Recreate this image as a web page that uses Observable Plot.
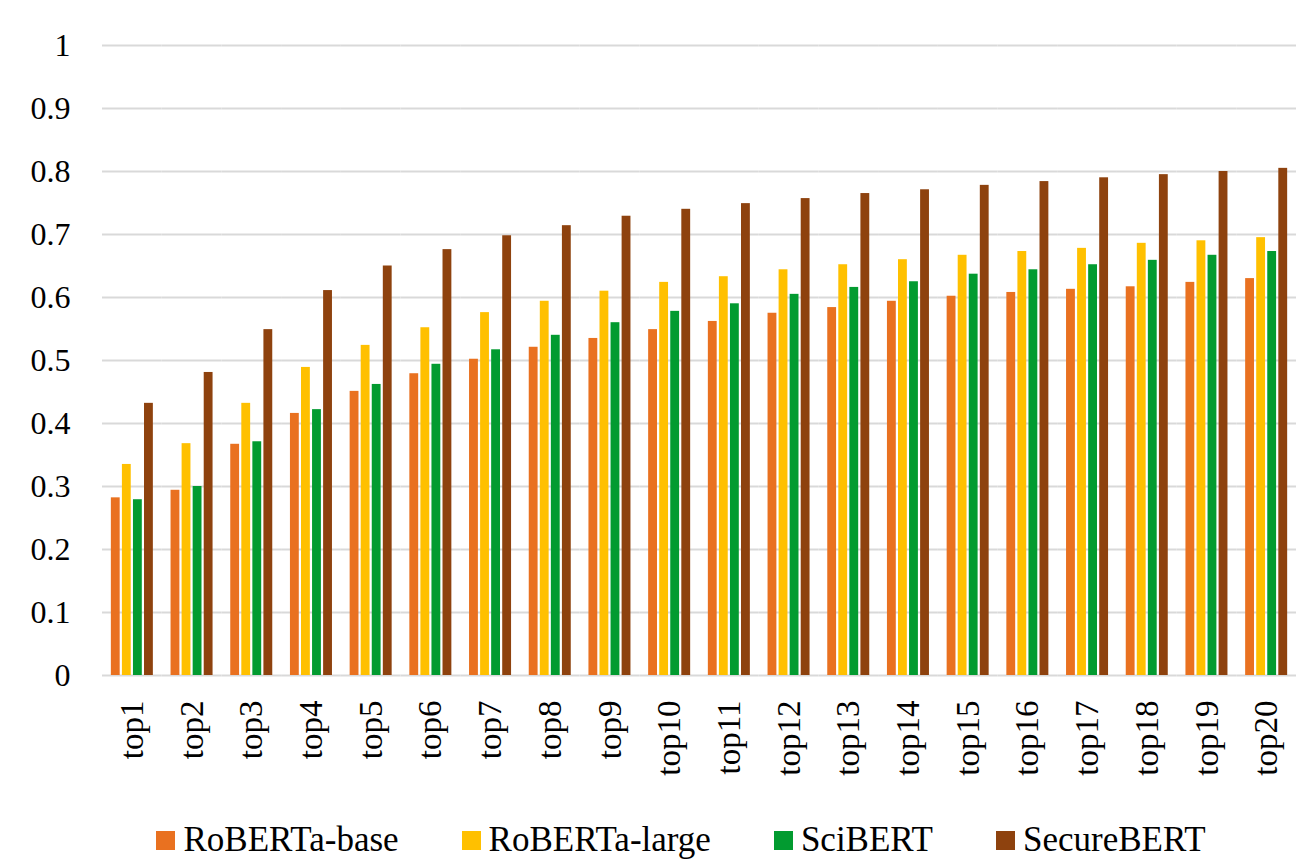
<!DOCTYPE html>
<html>
<head>
<meta charset="utf-8">
<script src="https://cdn.jsdelivr.net/npm/d3@7"></script>
<script src="https://cdn.jsdelivr.net/npm/@observablehq/plot@0.6"></script>
<style>
  html, body { margin: 0; padding: 0; background: #fff; }
  #chart { width: 1316px; }
  #chart svg text { font-family: "Liberation Serif", serif; }
  .legend { display: flex; justify-content: center; align-items: center; gap: 63px;
    font-family: "Liberation Serif", serif; font-size: 35px; color: #000; margin-top: 20px; padding-left: 46px; }
  .legend .item { display: flex; align-items: center; gap: 8px; }
  .legend .sw { width: 19px; height: 19px; display: inline-block; }
</style>
</head>
<body>
<div id="chart"></div>
<script>
const categories = ["top1","top2","top3","top4","top5","top6","top7","top8","top9","top10",
  "top11","top12","top13","top14","top15","top16","top17","top18","top19","top20"];
const seriesNames = ["RoBERTa-base", "RoBERTa-large", "SciBERT", "SecureBERT"];
const seriesColors = ["#E97120", "#FFC000", "#029B30", "#8E420E"];
const robertaBase  = [0.282,0.294,0.367,0.416,0.451,0.479,0.502,0.521,0.535,0.549,0.562,0.575,0.584,0.594,0.602,0.608,0.613,0.617,0.624,0.630];
const robertaLarge = [0.335,0.368,0.432,0.489,0.524,0.552,0.576,0.594,0.610,0.624,0.633,0.644,0.652,0.660,0.667,0.673,0.678,0.686,0.690,0.695];
const sciBert      = [0.279,0.300,0.371,0.422,0.462,0.494,0.517,0.540,0.560,0.578,0.590,0.605,0.616,0.625,0.637,0.644,0.652,0.659,0.667,0.673];
const secureBert   = [0.432,0.481,0.549,0.611,0.650,0.676,0.698,0.714,0.729,0.740,0.749,0.757,0.765,0.771,0.778,0.784,0.790,0.795,0.800,0.805];
const yTicks = [0, 0.1, 0.2, 0.3, 0.4, 0.5, 0.6, 0.7, 0.8, 0.9, 1];
const yTickLabels = ["0","0.1","0.2","0.3","0.4","0.5","0.6","0.7","0.8","0.9","1"];

const allSeries = [robertaBase, robertaLarge, sciBert, secureBert];
const data = [];
categories.forEach((c, i) => {
  seriesNames.forEach((s, j) => data.push({cat: c, series: s, value: allSeries[j][i]}));
});

const chart = Plot.plot({
  width: 1316,
  height: 800,
  marginTop: 45,
  marginBottom: 125,
  marginLeft: 102,
  marginRight: 20,
  style: {fontFamily: "'Liberation Serif', serif", fontSize: "32px", color: "#000", background: "#fff"},
  fx: {domain: categories, padding: 0, round: false, label: null},
  x: {domain: seriesNames, paddingInner: 0.2, paddingOuter: 0.8, round: false, axis: null},
  y: {domain: [0, 1], label: null},
  color: {domain: seriesNames, range: seriesColors},
  marks: [
    Plot.ruleY(yTicks, {stroke: "#d9d9d9", strokeWidth: 2.2}),
    Plot.barY(data, {fx: "cat", x: "series", y: "value", fill: "series"}),
    Plot.axisY({ticks: yTicks, tickFormat: (d) => yTickLabels[yTicks.indexOf(d)], tickSize: 0, tickPadding: 32, label: null, fontSize: 32, fontFamily: "Liberation Serif"}),
    Plot.axisFx({anchor: "bottom", tickRotate: -90, tickSize: 0, tickPadding: 25, label: null, fontSize: 33, fontFamily: "Liberation Serif"})
  ]
});
document.getElementById("chart").appendChild(chart);

const legend = document.createElement("div");
legend.className = "legend";
seriesNames.forEach((s, j) => {
  const item = document.createElement("div");
  item.className = "item";
  const sw = document.createElement("span");
  sw.className = "sw";
  sw.style.background = seriesColors[j];
  const t = document.createElement("span");
  t.textContent = s;
  item.appendChild(sw);
  item.appendChild(t);
  legend.appendChild(item);
});
document.getElementById("chart").appendChild(legend);
</script>
</body>
</html>
